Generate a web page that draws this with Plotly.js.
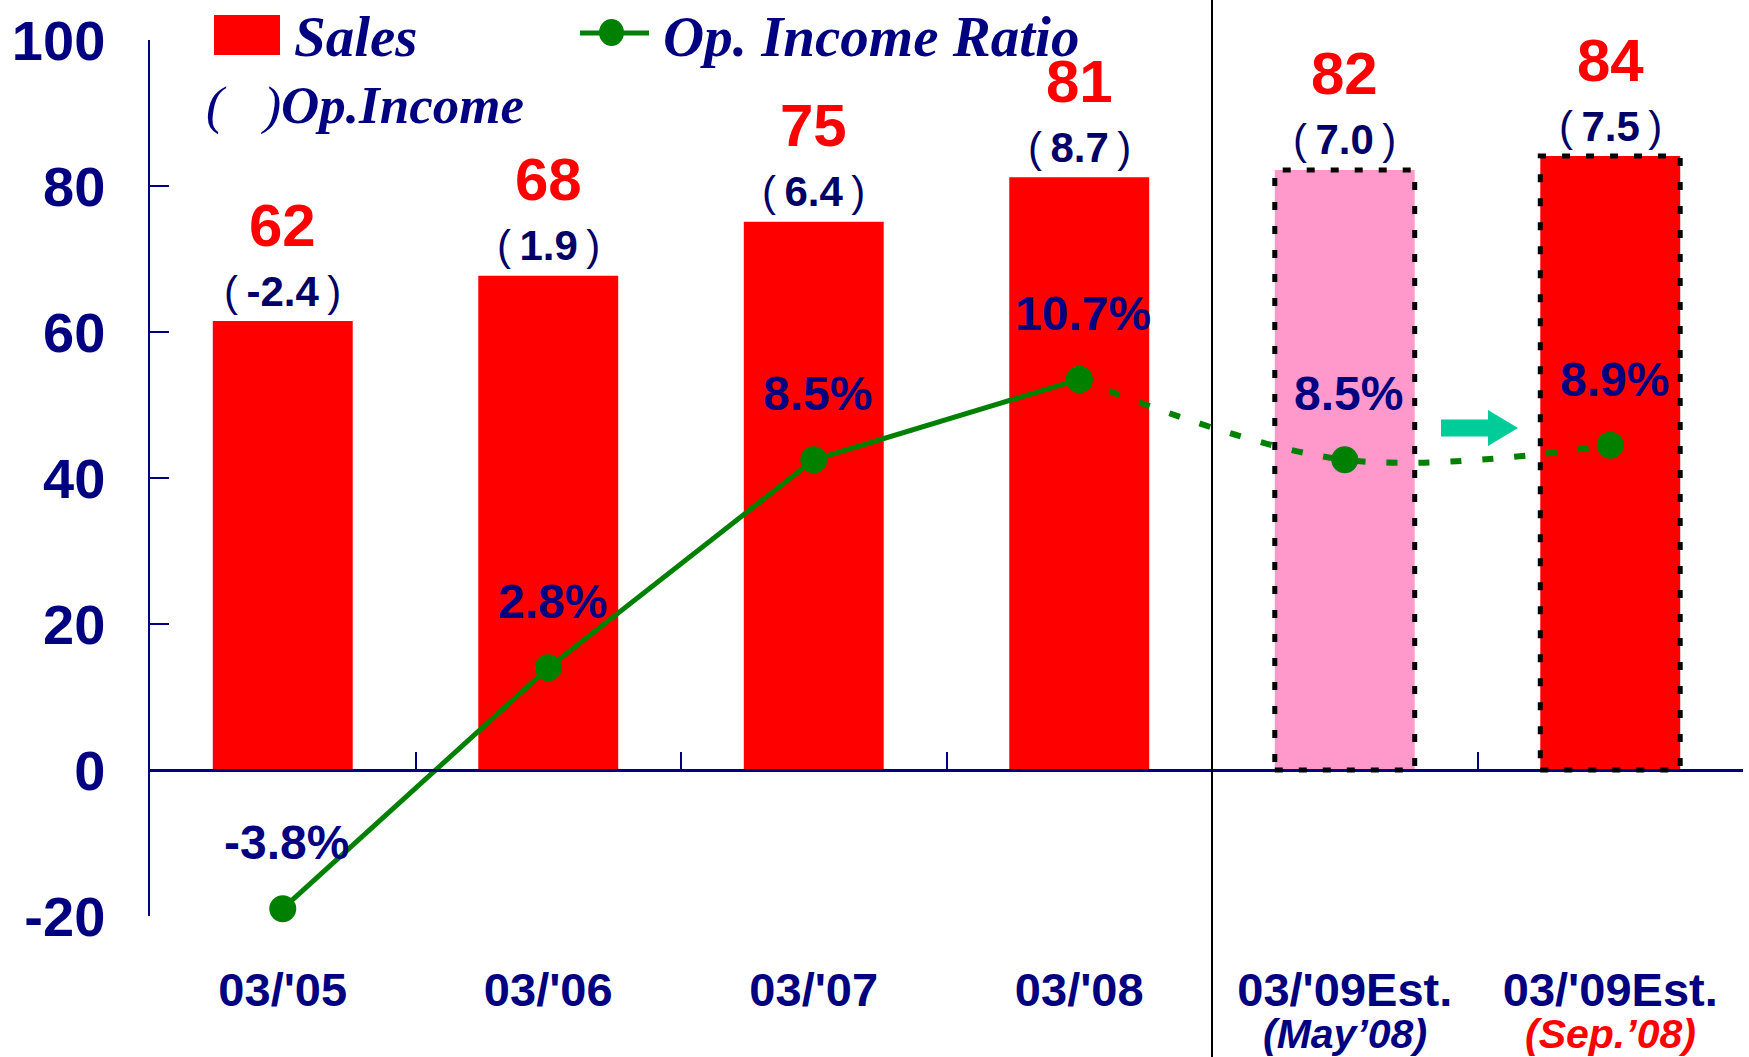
<!DOCTYPE html>
<html><head><meta charset="utf-8">
<script src="https://cdn.plot.ly/plotly-3.0.1.min.js"></script>
<style>html,body{margin:0;padding:0;background:#fff;}#chart{width:1749px;height:1057px;}</style>
</head><body><div id="chart"></div>
<script>
// ---------- data ----------
const periods   = ["03/'05", "03/'06", "03/'07", "03/'08", "03/'09Est.", "03/'09Est."];
const estNotes  = ["", "", "", "", "(May’08)", "(Sep.’08)"];
const sales     = [61.5, 67.7, 75.1, 81.2, 82.2, 84.1];
const salesText = [62, 68, 75, 81, 82, 84];
const opIncome  = [-2.4, 1.9, 6.4, 8.7, 7.0, 7.5];
const opRatio   = [-3.8, 2.8, 8.5, 10.7, 8.5, 8.9];
const yTickVals = [-20, 0, 20, 40, 60, 80, 100];
const yTickText = ['-20', '0', '20', '40', '60', '80', '100'];

// ---------- styling ----------
const NAVY = '#000080', DARKNAVY = '#000066', RED = '#FF0000', PINK = '#FF99CC', GREEN = '#008000', TEAL = '#00CC99';
const SANS = 'Liberation Sans, Arial, sans-serif';
const SERIF = 'Liberation Serif, Times New Roman, serif';
const W = 1749, H = 1057, ML = 150, MR = 6, MT = 40, MB = 141;
const PW = W - ML - MR, PH = H - MT - MB;
const X = px => (px - ML) / PW;          // pixel -> paper (decorations only)
const Y = py => (H - MB - py) / PH;

const keys = periods.map((p, i) => estNotes[i] ? p + ' ' + estNotes[i] : p);
const barColors = keys.map((_, i) => i === 4 ? PINK : RED);
const noteColors = {4: NAVY, 5: RED};
const BARW = 0.527;

const traces = [
  {type: 'bar', x: keys, y: sales, marker: {color: barColors, line: {width: 0}},
   width: BARW, hoverinfo: 'skip', showlegend: false},
  {type: 'scatter', mode: 'lines+markers', x: keys.slice(0, 4), y: opRatio.slice(0, 4), yaxis: 'y2', cliponaxis: false,
   line: {color: GREEN, width: 5}, marker: {color: GREEN, size: 27}, showlegend: false, hoverinfo: 'skip'},
  {type: 'scatter', mode: 'lines+markers', x: keys.slice(3), y: opRatio.slice(3), yaxis: 'y2', cliponaxis: false,
   line: {color: GREEN, width: 6, dash: '11px,21px', shape: 'spline', smoothing: 1},
   marker: {color: GREEN, size: 27}, showlegend: false, hoverinfo: 'skip'}
];

const annotations = [];
keys.forEach((k, i) => {
  annotations.push({x: k, y: sales[i], xref: 'x', yref: 'y', yanchor: 'middle', yshift: 96, showarrow: false,
    text: '<b>' + salesText[i] + '</b>', font: {family: SANS, size: 60, color: RED}});
  annotations.push({x: k, y: sales[i], xref: 'x', yref: 'y', yanchor: 'middle', yshift: 30, showarrow: false,
    text: '(\u2009<b>' + opIncome[i].toFixed(1) + '</b>\u2009)', font: {family: SANS, size: 42, color: DARKNAVY}});
  annotations.push({x: k, y: opRatio[i], xref: 'x', yref: 'y2', yanchor: 'middle', yshift: 66, xshift: 4, showarrow: false,
    text: '<b>' + opRatio[i].toFixed(1) + '%</b>', font: {family: SANS, size: 48, color: NAVY}});
  if (estNotes[i]) {
    annotations.push({x: k, y: Y(1034), xref: 'x', yref: 'paper', yanchor: 'middle', showarrow: false,
      text: '<b><i>' + estNotes[i] + '</i></b>', font: {family: SANS, size: 41, color: noteColors[i]}});
  }
});
// legend texts
annotations.push({x: X(292), y: Y(36), xref: 'paper', yref: 'paper', xanchor: 'left', yanchor: 'middle', showarrow: false,
  text: '<b><i>Sales</i></b>', font: {family: SERIF, size: 57, color: NAVY}});
annotations.push({x: X(661), y: Y(36), xref: 'paper', yref: 'paper', xanchor: 'left', yanchor: 'middle', showarrow: false,
  text: '<b><i>Op. Income Ratio</i></b>', font: {family: SERIF, size: 57, color: NAVY}});
annotations.push({x: X(204), y: Y(106), xref: 'paper', yref: 'paper', xanchor: 'left', yanchor: 'middle', showarrow: false,
  text: '<i>(&nbsp;&nbsp;&nbsp;)</i><b><i>Op.Income</i></b>', font: {family: SERIF, size: 53, color: NAVY}});

const shapes = [
  // legend swatches
  {type: 'rect', xref: 'paper', yref: 'paper', x0: X(214), x1: X(280), y0: Y(55), y1: Y(15), fillcolor: RED, line: {width: 0}},
  {type: 'line', xref: 'paper', yref: 'paper', x0: X(580), x1: X(649), y0: Y(33), y1: Y(33), line: {color: GREEN, width: 5}},
  {type: 'circle', xref: 'paper', yref: 'paper', x0: X(599), x1: X(624), y0: Y(46), y1: Y(19), fillcolor: GREEN, line: {width: 0}},
  // separator between results and estimates
  {type: 'line', xref: 'x', yref: 'paper', x0: 3.5, x1: 3.5, y0: Y(H + 5), y1: Y(-5), line: {color: '#000', width: 2}, layer: 'above'},
];
// dotted frames on estimate bars
[4, 5].forEach(i => shapes.push({type: 'rect', xref: 'x', yref: 'y', x0: i - BARW / 2, x1: i + BARW / 2, y0: 0, y1: sales[i],
  line: {color: '#000', width: 5, dash: '8px,16px'}, fillcolor: 'rgba(0,0,0,0)', layer: 'above'}));
// block arrow between the two estimates
const arrowPts = [[1441, 419.5], [1488, 419.5], [1488, 410], [1518, 428], [1488, 446], [1488, 436.5], [1441, 436.5]];
shapes.push({type: 'path', xref: 'paper', yref: 'paper', fillcolor: TEAL, line: {width: 0},
  path: 'M' + arrowPts.map(p => X(p[0]) + ',' + Y(p[1])).join(' L') + ' Z'});

const layout = {
  width: W, height: H, margin: {l: ML, r: MR, t: MT, b: MB},
  paper_bgcolor: '#fff', plot_bgcolor: '#fff', showlegend: false, bargap: 0.47,
  xaxis: {type: 'category', anchor: 'free', position: 20 / 120, range: [-0.5, 5.5],
    showline: true, linecolor: NAVY, linewidth: 2.5, ticks: 'inside', ticklen: 17, tickwidth: 2, tickcolor: NAVY,
    tickson: 'boundaries', tickmode: 'array', tickvals: keys, ticktext: periods,
    tickfont: {family: SANS, size: 47, color: NAVY, weight: 'bold'}, ticklabelstandoff: 178,
    showgrid: false, zeroline: false, fixedrange: true},
  yaxis: {range: [-20, 100], tickmode: 'array', tickvals: yTickVals, ticktext: yTickText,
    showline: true, linecolor: NAVY, linewidth: 2.5,
    ticks: 'inside', ticklen: 19, tickwidth: 2.5, tickcolor: NAVY,
    tickfont: {family: SANS, size: 56, color: NAVY, weight: 'bold'}, ticklabelstandoff: 31,
    showgrid: false, zeroline: false, fixedrange: true},
  yaxis2: {overlaying: 'y', range: [-4, 20], visible: false, fixedrange: true},
  annotations: annotations, shapes: shapes
};

Plotly.newPlot('chart', traces, layout, {staticPlot: true, displayModeBar: false});
</script>
</body></html>
